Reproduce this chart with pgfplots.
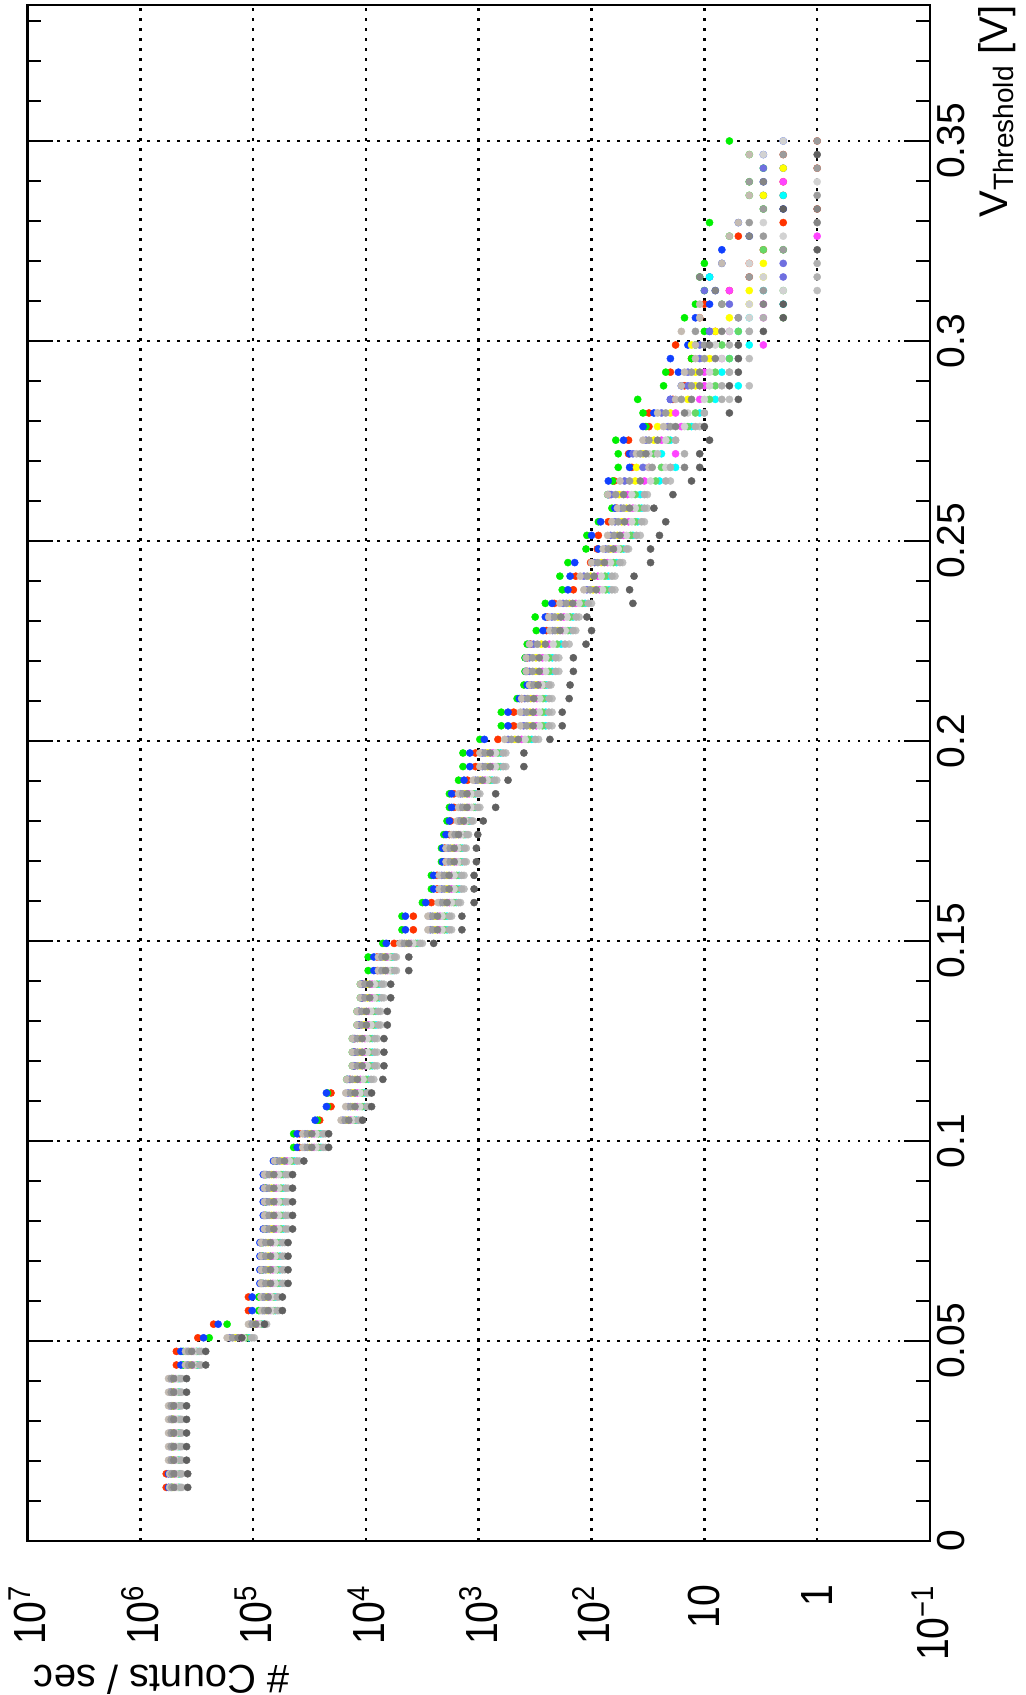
\documentclass[border=0pt]{standalone}
\usepackage{fontspec}
\setmainfont{Liberation Sans}
\usepackage{pgfplots}
\usepackage{pgfplotstable}
\pgfplotsset{compat=1.18}

\definecolor{cRD}{HTML}{FF3300}
\definecolor{cGR}{HTML}{00F000}
\definecolor{cBL}{HTML}{1040FF}
\definecolor{cYE}{HTML}{FFFF00}
\definecolor{cMA}{HTML}{FF44FF}
\definecolor{cCY}{HTML}{00FFFF}
\definecolor{cLG}{HTML}{66D866}
\definecolor{cSL}{HTML}{6F6FE0}
\definecolor{cBE}{HTML}{C4BBB2}
\definecolor{cGa}{HTML}{BEBEBE}
\definecolor{cGb}{HTML}{9C9C9C}
\definecolor{cGc}{HTML}{D2D2D2}
\definecolor{cGd}{HTML}{858585}
\definecolor{cGe}{HTML}{B0B0B0}
\definecolor{cDK}{HTML}{606060}

\pgfplotstableread{
V rd gr bl ye ma cy lg sl be g1 g2 g3 g4 g5 dk
0.0134 5.89e5 5.25e5 5.62e5 5.13e5 4.84e5 4.49e5 4.60e5 5.37e5 5.50e5 4.27e5 5.25e5 4.72e5 5.01e5 4.38e5 3.80e5
0.0168 5.89e5 5.25e5 5.62e5 5.13e5 4.84e5 4.49e5 4.60e5 5.37e5 5.50e5 4.27e5 5.25e5 4.72e5 5.01e5 4.38e5 3.80e5
0.0202 5.25e5 5.13e5 5.25e5 5.18e5 4.90e5 4.51e5 4.63e5 5.47e5 5.62e5 4.27e5 5.32e5 4.76e5 5.04e5 4.39e5 3.89e5
0.0236 5.25e5 5.13e5 5.25e5 5.18e5 4.90e5 4.51e5 4.63e5 5.47e5 5.62e5 4.27e5 5.32e5 4.76e5 5.04e5 4.39e5 3.89e5
0.0270 5.25e5 5.13e5 5.25e5 5.18e5 4.90e5 4.51e5 4.63e5 5.47e5 5.62e5 4.27e5 5.32e5 4.76e5 5.04e5 4.39e5 3.89e5
0.0304 5.25e5 5.13e5 5.25e5 5.18e5 4.90e5 4.51e5 4.63e5 5.47e5 5.62e5 4.27e5 5.32e5 4.76e5 5.04e5 4.39e5 3.89e5
0.0338 5.25e5 5.13e5 5.25e5 5.18e5 4.90e5 4.51e5 4.63e5 5.47e5 5.62e5 4.27e5 5.32e5 4.76e5 5.04e5 4.39e5 3.89e5
0.0372 5.25e5 5.13e5 5.25e5 5.18e5 4.90e5 4.51e5 4.63e5 5.47e5 5.62e5 4.27e5 5.32e5 4.76e5 5.04e5 4.39e5 3.89e5
0.0406 5.25e5 5.13e5 5.25e5 5.18e5 4.90e5 4.51e5 4.63e5 5.47e5 5.62e5 4.27e5 5.32e5 4.76e5 5.04e5 4.39e5 3.89e5
0.0440 4.79e5 4.17e5 4.37e5 3.61e5 3.39e5 3.08e5 3.18e5 3.85e5 3.98e5 2.88e5 3.73e5 3.28e5 3.50e5 2.98e5 2.63e5
0.0474 4.79e5 4.17e5 4.37e5 3.61e5 3.39e5 3.08e5 3.18e5 3.85e5 3.98e5 2.88e5 3.73e5 3.28e5 3.50e5 2.98e5 2.63e5
0.0508 3.09e5 2.45e5 2.75e5 1.44e5 1.29e5 1.09e5 1.15e5 1.61e5 1.70e5 9.77e4 1.52e5 1.22e5 1.36e5 1.03e5 1.26e5
0.0542 2.24e5 1.70e5 2.04e5 9.82e4 9.12e4 8.17e4 8.47e4 1.06e5 1.10e5 7.59e4 1.02e5 8.79e4 9.46e4 7.87e4 7.94e4
0.0576 1.10e5 8.91e4 1.02e5 7.62e4 7.08e4 6.34e4 6.58e4 8.20e4 8.51e4 5.89e4 7.91e4 6.82e4 7.35e4 6.11e4 5.50e4
0.0610 1.10e5 8.91e4 1.02e5 7.62e4 7.08e4 6.34e4 6.58e4 8.20e4 8.51e4 5.89e4 7.91e4 6.82e4 7.35e4 6.11e4 5.50e4
0.0644 8.51e4 8.32e4 8.71e4 7.36e4 6.68e4 5.78e4 6.07e4 8.11e4 8.51e4 5.25e4 7.73e4 6.37e4 7.01e4 5.51e4 4.90e4
0.0678 8.51e4 8.32e4 8.71e4 7.36e4 6.68e4 5.78e4 6.07e4 8.11e4 8.51e4 5.25e4 7.73e4 6.37e4 7.01e4 5.51e4 4.90e4
0.0712 8.51e4 8.32e4 8.71e4 7.36e4 6.68e4 5.78e4 6.07e4 8.11e4 8.51e4 5.25e4 7.73e4 6.37e4 7.01e4 5.51e4 4.90e4
0.0746 8.51e4 8.32e4 8.71e4 7.36e4 6.68e4 5.78e4 6.07e4 8.11e4 8.51e4 5.25e4 7.73e4 6.37e4 7.01e4 5.51e4 4.90e4
0.0780 7.94e4 7.76e4 8.13e4 6.87e4 6.24e4 5.40e4 5.66e4 7.57e4 7.94e4 4.90e4 7.21e4 5.94e4 6.55e4 5.14e4 4.47e4
0.0814 7.94e4 7.76e4 8.13e4 6.87e4 6.24e4 5.40e4 5.66e4 7.57e4 7.94e4 4.90e4 7.21e4 5.94e4 6.55e4 5.14e4 4.47e4
0.0848 7.94e4 7.76e4 8.13e4 6.87e4 6.24e4 5.40e4 5.66e4 7.57e4 7.94e4 4.90e4 7.21e4 5.94e4 6.55e4 5.14e4 4.47e4
0.0882 7.94e4 7.76e4 8.13e4 6.87e4 6.24e4 5.40e4 5.66e4 7.57e4 7.94e4 4.90e4 7.21e4 5.94e4 6.55e4 5.14e4 4.47e4
0.0916 7.94e4 7.76e4 8.13e4 6.87e4 6.24e4 5.40e4 5.66e4 7.57e4 7.94e4 4.90e4 7.21e4 5.94e4 6.55e4 5.14e4 4.47e4
0.0950 6.46e4 6.31e4 6.61e4 5.55e4 5.01e4 4.31e4 4.53e4 6.14e4 6.46e4 3.89e4 5.83e4 4.76e4 5.27e4 4.09e4 3.55e4
0.0984 3.89e4 4.37e4 4.07e4 3.16e4 2.88e4 2.51e4 2.63e4 3.47e4 3.63e4 2.29e4 3.31e4 2.75e4 3.02e4 2.40e4 2.14e4
0.1018 3.89e4 4.37e4 4.07e4 3.16e4 2.88e4 2.51e4 2.63e4 3.47e4 3.63e4 2.29e4 3.31e4 2.75e4 3.02e4 2.40e4 2.14e4
0.1052 2.57e4 2.69e4 2.82e4 1.48e4 1.36e4 1.21e4 1.26e4 1.60e4 1.66e4 1.12e4 1.53e4 1.31e4 1.42e4 1.17e4 1.07e4
0.1086 2.04e4 2.19e4 2.24e4 1.31e4 1.19e4 1.03e4 1.08e4 1.44e4 1.51e4 9.33e3 1.37e4 1.13e4 1.25e4 9.79e3 8.91e3
0.1120 2.04e4 2.19e4 2.24e4 1.31e4 1.19e4 1.03e4 1.08e4 1.44e4 1.51e4 9.33e3 1.37e4 1.13e4 1.25e4 9.79e3 8.91e3
0.1154 1.38e4 1.48e4 1.45e4 1.25e4 1.12e4 9.51e3 1.00e4 1.40e4 1.48e4 8.51e3 1.32e4 1.06e4 1.19e4 8.99e3 7.08e3
0.1188 1.26e4 1.32e4 1.29e4 1.13e4 1.02e4 8.79e3 9.25e3 1.25e4 1.32e4 7.94e3 1.19e4 9.73e3 1.08e4 8.36e3 6.92e3
0.1222 1.26e4 1.32e4 1.29e4 1.13e4 1.02e4 8.79e3 9.25e3 1.25e4 1.32e4 7.94e3 1.19e4 9.73e3 1.08e4 8.36e3 6.92e3
0.1256 1.26e4 1.32e4 1.29e4 1.13e4 1.02e4 8.79e3 9.25e3 1.25e4 1.32e4 7.94e3 1.19e4 9.73e3 1.08e4 8.36e3 6.92e3
0.1290 1.15e4 1.20e4 1.17e4 1.04e4 9.44e3 8.17e3 8.57e3 1.15e4 1.20e4 7.41e3 1.09e4 8.99e3 9.91e3 7.78e3 6.46e3
0.1324 1.15e4 1.20e4 1.17e4 1.04e4 9.44e3 8.17e3 8.57e3 1.15e4 1.20e4 7.41e3 1.09e4 8.99e3 9.91e3 7.78e3 6.46e3
0.1358 1.07e4 1.12e4 1.10e4 9.70e3 8.81e3 7.62e3 8.00e3 1.07e4 1.12e4 6.92e3 1.02e4 8.39e3 9.25e3 7.26e3 6.03e3
0.1392 1.07e4 1.12e4 1.10e4 9.70e3 8.81e3 7.62e3 8.00e3 1.07e4 1.12e4 6.92e3 1.02e4 8.39e3 9.25e3 7.26e3 6.03e3
0.1426 7.94e3 9.55e3 8.51e3 6.95e3 6.46e3 5.78e3 6.00e3 7.48e3 7.76e3 5.37e3 7.21e3 6.22e3 6.70e3 5.57e3 4.17e3
0.1460 7.94e3 9.55e3 8.51e3 6.95e3 6.46e3 5.78e3 6.00e3 7.48e3 7.76e3 5.37e3 7.21e3 6.22e3 6.70e3 5.57e3 4.17e3
0.1494 5.62e3 7.08e3 6.61e3 4.37e3 3.98e3 3.47e3 3.63e3 4.79e3 5.01e3 3.16e3 4.57e3 3.80e3 4.17e3 3.31e3 2.51e3
0.1528 3.80e3 4.79e3 4.47e3 2.44e3 2.21e3 1.91e3 2.01e3 2.69e3 2.82e3 1.74e3 2.56e3 2.11e3 2.32e3 1.82e3 1.41e3
0.1562 3.80e3 4.79e3 4.47e3 2.44e3 2.21e3 1.91e3 2.01e3 2.69e3 2.82e3 1.74e3 2.56e3 2.11e3 2.32e3 1.82e3 1.41e3
0.1596 2.63e3 3.16e3 2.95e3 2.00e3 1.82e3 1.58e3 1.66e3 2.19e3 2.29e3 1.45e3 2.09e3 1.74e3 1.91e3 1.51e3 1.10e3
0.1630 2.34e3 2.63e3 2.51e3 1.92e3 1.74e3 1.49e3 1.57e3 2.13e3 2.24e3 1.35e3 2.02e3 1.65e3 1.83e3 1.42e3 1.10e3
0.1664 2.34e3 2.63e3 2.51e3 1.92e3 1.74e3 1.49e3 1.57e3 2.13e3 2.24e3 1.35e3 2.02e3 1.65e3 1.83e3 1.42e3 1.10e3
0.1698 2.00e3 2.14e3 2.09e3 1.72e3 1.58e3 1.40e3 1.46e3 1.87e3 1.95e3 1.29e3 1.79e3 1.52e3 1.65e3 1.34e3 1.05e3
0.1732 2.00e3 2.14e3 2.09e3 1.72e3 1.58e3 1.40e3 1.46e3 1.87e3 1.95e3 1.29e3 1.79e3 1.52e3 1.65e3 1.34e3 1.05e3
0.1766 1.82e3 2.04e3 1.95e3 1.57e3 1.46e3 1.32e3 1.36e3 1.68e3 1.74e3 1.23e3 1.62e3 1.41e3 1.51e3 1.27e3 1.02e3
0.1800 1.78e3 1.91e3 1.82e3 1.41e3 1.32e3 1.20e3 1.24e3 1.50e3 1.55e3 1.12e3 1.45e3 1.28e3 1.36e3 1.16e3 912
0.1834 1.66e3 1.82e3 1.74e3 1.33e3 1.22e3 1.07e3 1.11e3 1.45e3 1.51e3 977 1.39e3 1.16e3 1.27e3 1.02e3 708
0.1868 1.66e3 1.82e3 1.74e3 1.33e3 1.22e3 1.07e3 1.11e3 1.45e3 1.51e3 977 1.39e3 1.16e3 1.27e3 1.02e3 708
0.1902 1.26e3 1.51e3 1.35e3 970 881 762 800 1.07e3 1.12e3 692 1.02e3 839 925 726 550
0.1936 1.07e3 1.38e3 1.20e3 834 750 640 675 927 977 575 879 711 791 607 398
0.1970 1.07e3 1.38e3 1.20e3 834 750 640 675 927 977 575 879 711 791 607 398
0.2004 676 977 891 479 417 339 363 550 589 295 513 389 447 316 234
0.2038 490 631 550 352 309 255 272 400 427 224 375 290 330 239 182
0.2072 490 631 550 352 309 255 272 400 427 224 375 290 330 239 182
0.2106 417 457 437 346 305 254 270 392 417 224 368 287 325 238 158
0.2140 355 398 372 311 285 250 261 340 355 229 325 273 298 239 155
0.2174 372 389 380 311 272 223 238 356 380 195 333 255 291 208 145
0.2208 372 389 380 311 272 223 238 356 380 195 333 255 291 208 145
0.2242 347 372 355 279 237 186 202 327 355 158 302 219 257 172 112
0.2276 251 309 269 200 180 153 162 222 234 138 211 171 190 146 100
0.2310 245 316 257 199 176 146 155 225 240 129 212 165 187 137 110
0.2344 214 257 224 157 138 114 121 179 191 100 167 129 147 107 43
0.2378 145 182 162 97 85 70 75 110 117 62 103 80 91 66 46
0.2412 138 191 155 102 88 71 76 117 126 62 109 82 95 66 42
0.2446 102 162 141 82 72 60 64 94 100 53 88 68 77 56 30
0.2480 89 112 87 68 61 52 55 75 79 47 71 58 64 49 30
0.2514 87 110 100 59 52 43 45 68 72 37 63 49 56 40 25
0.2548 71 87 83 54 47 39 41 62 66 34 58 44 51 36 22
0.2582 60 66 62 49 43 36 38 55 59 32 52 41 46 34 28
0.2616 69 72 71 57 48 37 41 67 72 32 61 44 52 34 19
0.2650 63 65 71 41 34 25 27 51 56 20 46 30 37 22 13
0.2684 44 58 46 40 31 18 24 35 31 20 29 22 15 20 11
0.2718 47 58 46 35 18 24 28 43 40 26 37 31 33 15 11
0.2752 47 61 52 28 24 20 21 33 35 18 31 22 26 18 9
0.2786 31 33 35 26 16 13 14 21 23 11 20 15 18 12 10
0.2820 31 35 28 20 18 11 12 24 26 10 22 14 15 10 6
0.2854 19 39 20 14 11 8 9 20 18 6 16 10 13 7 5
0.2888 15 23 16 12 10 5 8 14 16 4 13 9 11 7 6
0.2922 20 22 17 12 10 7 8 14 15 6 13 9 11 6 5
0.2956 13 13 20 9 7 6 6 11 12 4 10 7 8 5 5
0.2990 18 12 14 13 3 4 7 11 12 5 10 8 9 6 5
0.3024 8 10 9 8 6 5 5 9 16 4 12 6 7 4 3
0.3058 11 15 12 6 3 4 2 5 11 nan 5 4 nan 3 2
0.3092 10 12 9 4 3 2 7 6 11 nan 7 4 3 nan 2
0.3126 6 10 8 4 6 3 2 10 nan 1 3 2 8 nan nan
0.3160 4 11 9 3 nan 9 nan 2 nan nan 4 3 11 1 nan
0.3194 4 10 7 3 nan nan nan 2 7 nan nan 4 nan 1 nan
0.3228 3 2 7 nan nan nan 3 nan nan nan 2 nan nan nan 1
0.3262 5 6 4 nan 1 nan nan nan 6 nan 3 2 4 nan nan
0.3296 2 9 5 nan nan nan nan nan 5 nan 4 3 1 nan nan
0.3330 1 3 2 nan nan nan nan nan nan nan 3 nan 1 nan 2
0.3364 2 4 3 3 nan 2 nan nan 4 nan 1 nan nan nan nan
0.3398 2 4 3 nan 2 nan nan nan nan nan 4 1 3 nan nan
0.3432 1 3 2 2 nan nan nan 3 nan nan 1 nan nan nan nan
0.3466 2 4 3 nan nan nan nan nan 4 nan 2 3 nan nan 1
0.3500 1 6 2 nan nan nan nan nan nan nan 1 2 nan nan nan
}\datatable

\newcommand\ser[2]{\addplot[only marks, mark=*, mark size=1.8pt, color=#2, mark options={line width=0.2pt}] table[x=#1,y=V]{\datatable};}

\begin{document}
\begin{tikzpicture}
\begin{axis}[
  scale only axis, width=451.25pt, height=768pt,
  xmode=log, x dir=reverse, xmin=0.1, xmax=1e7,
  ymin=0, ymax=0.384,
  xtick={0.1,1,10,100,1000,10000,100000,1000000,10000000},
  xticklabels={10\textsuperscript{−1},1,10,10\textsuperscript{2},10\textsuperscript{3},10\textsuperscript{4},10\textsuperscript{5},10\textsuperscript{6},10\textsuperscript{7}},
  xminorticks=false,
  ytick={0,0.05,0.1,0.15,0.2,0.25,0.3,0.35},
  yticklabels={0,0.05,0.1,0.15,0.2,0.25,0.3,0.35},
  minor ytick={0.01,0.02,0.03,0.04,0.06,0.07,0.08,0.09,0.11,0.12,0.13,0.14,0.16,0.17,0.18,0.19,0.21,0.22,0.23,0.24,0.26,0.27,0.28,0.29,0.31,0.32,0.33,0.34,0.36,0.37,0.38},
  yticklabel pos=right,
  ytick pos=both,
  tick align=inside,
  major tick length=13pt, minor tick length=7pt,
  tick style={black, line width=1pt},
  xtick style={draw=none},
  grid=major,
  major grid style={black, line width=1.25pt, dash pattern=on 1.25pt off 3.75pt},
  axis line style={line width=1.2pt},
  xticklabel style={rotate=90, xscale=0.87, anchor=east, font=\fontsize{22.5}{24}\selectfont},
  xticklabel shift=19pt,
  yticklabel style={rotate=90, anchor=north, font=\fontsize{19.5}{20}\selectfont},
  xlabel={\# Counts / sec},
  ylabel={V\textsubscript{Threshold} [V]},
  every axis x label/.style={at={(axis description cs:0,0)}, yshift=-62pt, xshift=3pt, rotate=180, anchor=south east, inner sep=0pt, font=\fontsize{20}{22}\selectfont},
  every axis y label/.style={at={(axis description cs:1,1)}, xshift=24pt, rotate=90, anchor=north east, inner sep=0pt, font=\fontsize{20}{22}\selectfont},
]
\ser{rd}{cRD}
\ser{gr}{cGR}
\ser{bl}{cBL}
\ser{ye}{cYE}
\ser{ma}{cMA}
\ser{cy}{cCY}
\ser{lg}{cLG}
\ser{sl}{cSL}
\ser{be}{cBE}
\ser{g1}{cGa}
\ser{g2}{cGb}
\ser{g3}{cGc}
\ser{g4}{cGd}
\ser{g5}{cGe}
\ser{dk}{cDK}
\coordinate (BL) at (axis description cs:0,0);
\coordinate (TR) at (axis description cs:1,1);
\end{axis}
\pgfresetboundingbox
\path ([shift={(-13.75pt,-77pt)}]BL) rectangle ([shift={(48pt,2.5pt)}]TR);
\end{tikzpicture}
\end{document}
